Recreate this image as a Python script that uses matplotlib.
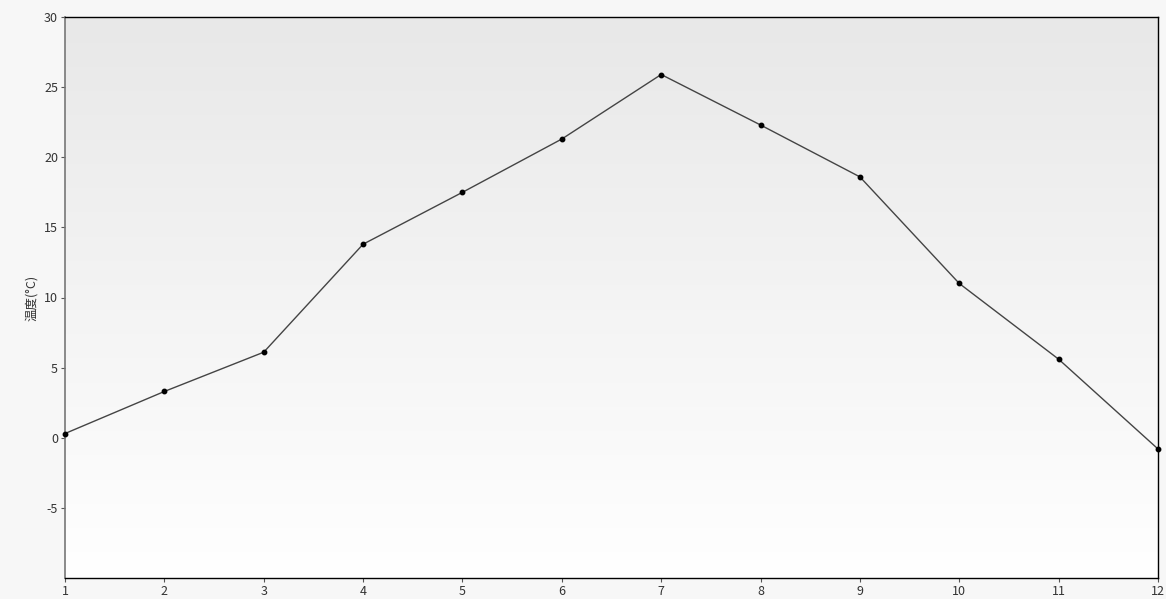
import matplotlib
matplotlib.use("Agg")
import matplotlib.pyplot as plt
import numpy as np
from matplotlib.colors import LinearSegmentedColormap

months = [1, 2, 3, 4, 5, 6, 7, 8, 9, 10, 11, 12]
temps = [0.3, 3.3, 6.1, 13.8, 17.5, 21.3, 25.9, 22.3, 18.6, 11.0, 5.6, -0.8]
yticks = [-5, 0, 5, 10, 15, 20, 25, 30]
ylabel = "温度(°C)"

plt.rcParams['font.family'] = ['Noto Sans CJK SC', 'DejaVu Sans']
plt.rcParams['axes.unicode_minus'] = False

fig = plt.figure(figsize=(11.66, 5.99), dpi=100, facecolor='#f7f7f7')
ax = fig.add_axes([65/1166, 1-578/599, (1158-65)/1166, (578-17)/599])

# gradient background
grad = np.linspace(0, 1, 256).reshape(-1, 1)
cmap = LinearSegmentedColormap.from_list('g', ['#ffffff', '#e8e8e8'])
ax.imshow(grad, extent=[1, 12, -10, 30], origin='lower', aspect='auto', cmap=cmap, zorder=0)

ax.plot(months, temps, color='#444444', linewidth=1.0, marker='o', markersize=3.2,
        markerfacecolor='black', markeredgecolor='black', zorder=3, clip_on=False)

ax.set_xlim(1, 12)
ax.set_ylim(-10, 30)
ax.set_xticks(months)
ax.set_yticks(yticks)
ax.tick_params(axis='both', labelsize=9, length=3, width=0.8, colors='#555555', labelcolor='#333333', pad=2)
ax.set_ylabel(ylabel, fontsize=9, color='#333333', labelpad=4)

for s in ['top', 'right', 'bottom']:
    ax.spines[s].set_color('black')
    ax.spines[s].set_linewidth(1.0)
ax.spines['left'].set_color('#777777')
ax.spines['left'].set_linewidth(1.2)

fig.savefig('out.png', dpi=100, facecolor=fig.get_facecolor())
